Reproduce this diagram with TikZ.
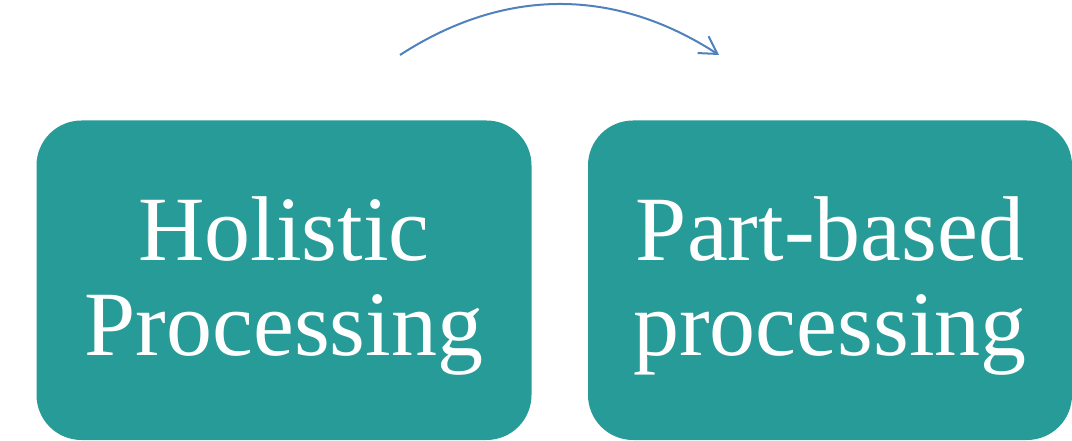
\documentclass[tikz,border=0pt]{standalone}
\usepackage{fontspec}
\setmainfont{Liberation Serif}
\usetikzlibrary{arrows.meta}

\definecolor{tealbox}{RGB}{38,155,151}
\definecolor{arrowblue}{RGB}{79,129,189}

\tikzset{
  procbox/.style={fill=tealbox, rounded corners=45pt, inner sep=0pt, minimum height=319.5pt},
  proctext/.style={text=white, align=center, inner sep=0pt, font=\fontsize{92}{95}\selectfont},
}

\begin{document}
\begin{tikzpicture}[x=1pt, y=-1pt]
        \useasboundingbox (0,0) rectangle (1072,441);

        % Boxes
        \node[procbox, minimum width=495pt] (holistic) at (284,280.25) {};
        \node[procbox, minimum width=484pt] (partbased) at (830,280.25) {};

        % Labels
        \node[proctext, yshift=-6pt] (holistictext) at (holistic.center) {Holistic\\Processing};
        \node[proctext, yshift=-6pt] (partbasedtext) at (partbased.center) {Part-based\\processing};

        % Arrow
        \coordinate (a1) at (400,55);
        \coordinate (a2) at (719,55);
        \draw[arrowblue, line width=2pt, -{Straight Barb[length=17pt, width=20pt]}] (a1) to[bend left=33] (a2);

    \end{tikzpicture}
\end{document}
